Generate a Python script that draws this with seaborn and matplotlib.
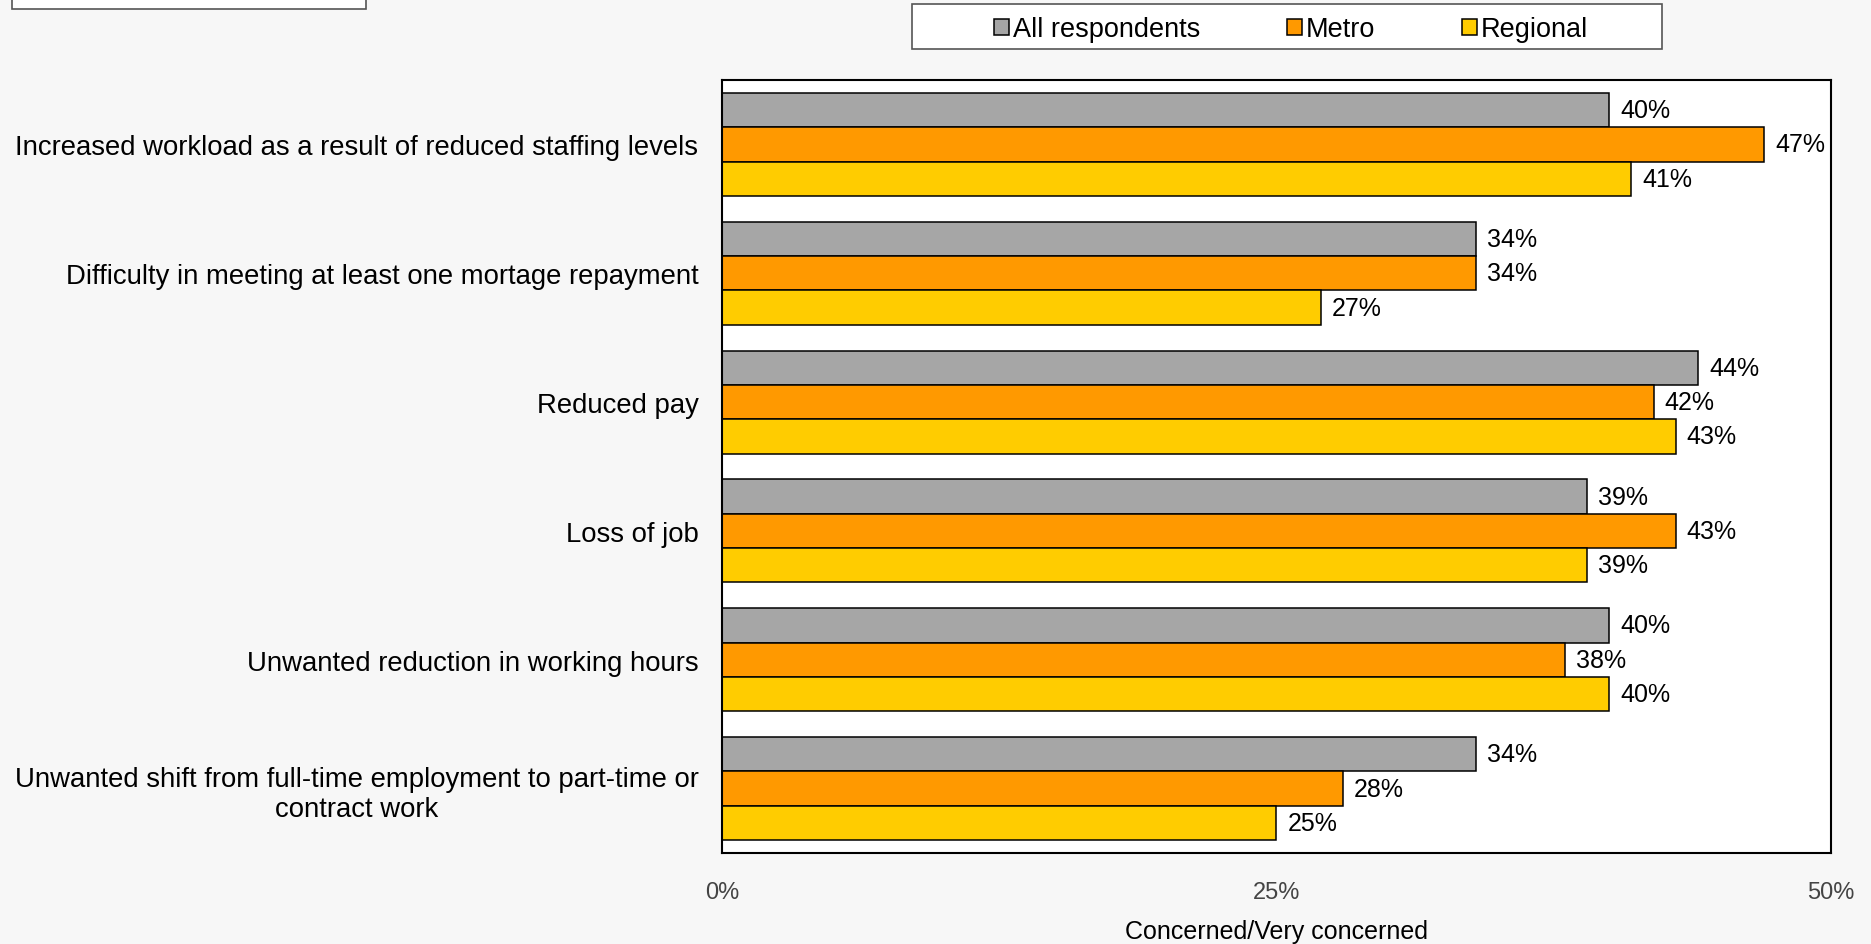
import pandas as pd
import numpy as np
import seaborn as sns
import matplotlib.pyplot as plt
from matplotlib.patches import Rectangle

# categorias y valores (porcentaje concerned/very concerned)
concerns = [
    "Increased workload as a result of reduced staffing levels",
    "Difficulty in meeting at least one mortage repayment",
    "Reduced pay",
    "Loss of job",
    "Unwanted reduction in working hours",
    "Unwanted shift from full-time employment to part-time or\ncontract work",
]
groups = ["All respondents", "Metro", "Regional"]
all_resp = [40, 34, 44, 39, 40, 34]
metro = [47, 34, 42, 43, 38, 28]
regional = [41, 27, 43, 39, 40, 25]
x_ticks = [0, 25, 50]
x_tick_labels = ["0%", "25%", "50%"]

colores = ["#A6A6A6", "#FF9900", "#FFCC00"]

df = pd.DataFrame({
    "Concern": concerns * 3,
    "Group": np.repeat(groups, len(concerns)),
    "Value": all_resp + metro + regional,
})

sns.set_style("white")
plt.rcParams['font.family'] = ['Liberation Sans', 'DejaVu Sans']
plt.rcParams['text.color'] = 'black'
plt.rcParams['axes.labelcolor'] = 'black'
plt.rcParams['ytick.color'] = 'black'

fig = plt.figure(figsize=(18.71, 9.45), dpi=100, facecolor="#F7F7F7")
ax = fig.add_axes([0.3859, 0.0963, 0.5927, 0.818])

sns.barplot(df, y="Concern", x="Value", hue="Group", palette=colores,
            orient="h", width=0.8, edgecolor="black", linewidth=1.1, ax=ax,
            saturation=1, legend=True)

for cont in ax.containers:
    ax.bar_label(cont, labels=[f"{v:.0f}%" for v in cont.datavalues],
                 padding=8, fontsize=18, color="black")

ax.set_xlim(0, 50)
ax.set_xticks(x_ticks)
ax.set_xticklabels(x_tick_labels, fontsize=17, color="#444444")
ax.tick_params(axis="x", length=0, pad=20)
ax.tick_params(axis="y", length=0, pad=17, labelsize=19.8, labelcolor="black")
for lab in ax.get_yticklabels():
    lab.set_multialignment("center")
ax.set_ylabel("")
ax.set_xlabel("Concerned/Very concerned", fontsize=18, labelpad=12, color="black")
for s in ax.spines.values():
    s.set_color("black")
    s.set_linewidth(1.5)

leg = ax.legend(loc="center", bbox_to_anchor=(0.690, 0.968), bbox_transform=fig.transFigure,
                ncol=3, frameon=False, fontsize=19.5, handlelength=0.55,
                handleheight=0.55, handletextpad=0.15, columnspacing=3.2,
                borderpad=0.4, borderaxespad=0, labelcolor="black")
for h in leg.legend_handles:
    h.set_edgecolor("black")

# marco de la leyenda, mas ancho que el de matplotlib (detras de los ejes)
fig.patches.append(Rectangle((0.4872, 0.947), 0.4012, 0.048,
                             transform=fig.transFigure, facecolor="white",
                             edgecolor="#555555", linewidth=1.2, zorder=-1))

# recuadro cortado arriba a la izquierda
fig.patches.append(Rectangle((12 / 1871, 1 - 10 / 945), (366 - 12) / 1871, 0.05,
                             transform=fig.transFigure, facecolor="white",
                             edgecolor="#555555", linewidth=1.2, zorder=-1))

fig.savefig("out.png", dpi=100, facecolor=fig.get_facecolor())
